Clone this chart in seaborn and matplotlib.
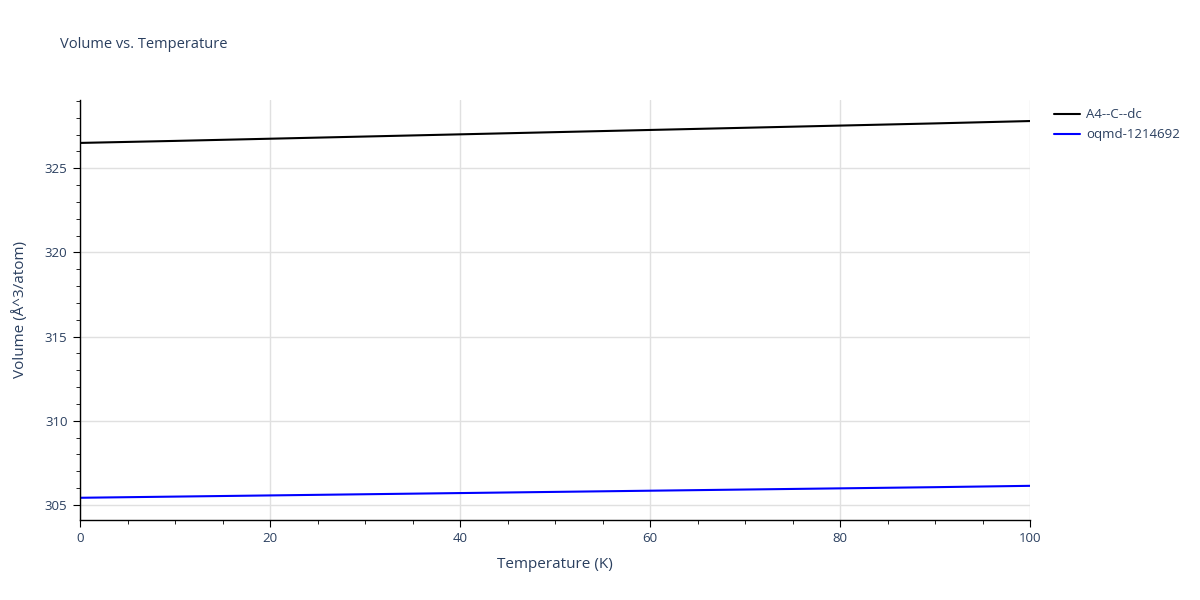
import matplotlib
matplotlib.use("Agg")
import matplotlib.pyplot as plt
from matplotlib.ticker import MultipleLocator
import seaborn as sns
import pandas as pd

temps = [0, 10, 20, 30, 40, 50, 60, 70, 80, 90, 100]
vol_a4 = [326.50, 326.62, 326.75, 326.88, 327.01, 327.14, 327.27, 327.40, 327.53, 327.66, 327.80]
vol_oqmd = [305.42, 305.49, 305.56, 305.63, 305.70, 305.77, 305.84, 305.91, 305.98, 306.05, 306.13]
names = ["A4--C--dc", "oqmd-1214692"]
colors = ["black", "blue"]

df = pd.concat([
    pd.DataFrame({"T": temps, "V": vol_a4, "name": names[0]}),
    pd.DataFrame({"T": temps, "V": vol_oqmd, "name": names[1]}),
])

sns.set_style("white")
plt.rcParams['font.family'] = ['Open Sans', 'DejaVu Sans']
txt = "#2a3f5f"

fig = plt.figure(figsize=(12, 6), dpi=100)
ax = fig.add_axes([80 / 1200, 80 / 600, 950 / 1200, 420 / 600])

sns.lineplot(data=df, x="T", y="V", hue="name", palette=colors, linewidth=1.5, ax=ax)

ax.set_xlim(0, 100)
ax.set_ylim(304.1, 329.05)
ax.xaxis.set_major_locator(MultipleLocator(20))
ax.xaxis.set_minor_locator(MultipleLocator(5))
ax.yaxis.set_major_locator(MultipleLocator(5))
ax.yaxis.set_minor_locator(MultipleLocator(1))
ax.grid(True, which="major", color="#e0e0e0", linewidth=1)
ax.set_axisbelow(True)

for s in ["top", "right"]:
    ax.spines[s].set_visible(False)
for s in ["left", "bottom"]:
    ax.spines[s].set_color("black")
    ax.spines[s].set_linewidth(1)

ax.tick_params(which="both", direction="out", color="black", left=True, bottom=True)
ax.tick_params(which="major", length=5, labelsize=9.5, labelcolor=txt, pad=4)
ax.tick_params(which="minor", length=3)

ax.set_xlabel("Temperature (K)", fontsize=11, color=txt, labelpad=8)
ax.set_ylabel("Volume (Å^3/atom)", fontsize=11, color=txt, labelpad=12)

fig.text(60 / 1200, 1 - 45 / 600, "Volume vs. Temperature", fontsize=10.5, color=txt, va="center")

leg = ax.legend(loc="upper left", bbox_to_anchor=(1.0195, 0.993), frameon=False,
                fontsize=9.5, handlelength=2, handletextpad=0.45,
                borderaxespad=0, labelspacing=0.55)
for t in leg.get_texts():
    t.set_color(txt)

fig.savefig("out.png", dpi=100)
